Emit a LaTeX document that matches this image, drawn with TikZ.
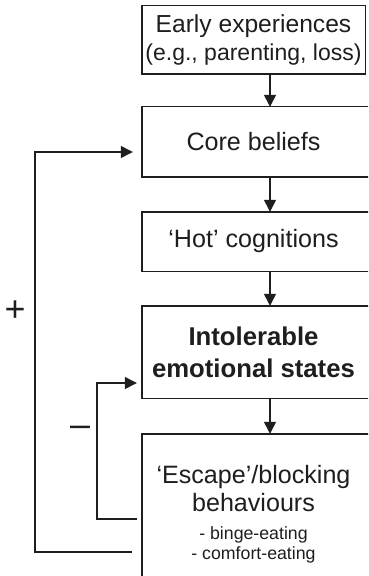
\documentclass[tikz,border=0pt]{standalone}
\usepackage{fontspec}
\setmainfont{Liberation Sans}
\usetikzlibrary{arrows.meta,calc}
\definecolor{ink}{HTML}{1E1E1E}
\begin{document}
\begin{tikzpicture}[x=1bp,y=-1bp,
  every node/.style={text=ink},
  txt/.style={inner sep=0pt, align=center, minimum width=223bp},
  frame/.style={draw=ink, line width=1.4bp},
  arr/.style={draw=ink, line width=1.3bp, -{Triangle[width=12bp,length=12bp]}},
  sign/.style={font=\fontsize{36}{36}\selectfont, inner sep=0pt}]
\useasboundingbox (0,0) rectangle (368,576);
\fill[white] (0,0) rectangle (368,576);
\clip (0,0) rectangle (368,576);

% column of boxes
\node[txt, minimum height=68bp, font=\fontsize{24.7}{28}\selectfont] (early) at (253.5,40)
  {Early experiences\\{\fontsize{23.1}{28}\selectfont (e.g., parenting, loss)}};
\node[txt, minimum height=70bp, font=\fontsize{25.2}{28}\selectfont] (core) at (253.5,142)
  {Core beliefs};
\node[txt, minimum height=59bp, font=\fontsize{25.2}{28}\selectfont] (hot) at (253.5,241.5)
  {‘Hot’ cognitions};
\node[txt, minimum height=92bp, font=\bfseries\fontsize{25.8}{32}\selectfont] (intol) at (253.5,352)
  {Intolerable\\emotional states};
\node[txt, minimum height=160bp, font=\fontsize{25.2}{24}\selectfont] (esc) at (253.5,514)
  {‘Escape’/blocking\\[4bp]behaviours\\[4bp]
   {\fontsize{17.8}{20}\selectfont - binge-eating}\\[-4bp]
   {\fontsize{17.8}{20}\selectfont - comfort-eating}};

% box outlines (the lower ones run past the right and bottom edges)
\draw[frame] (early.north west) rectangle (early.south east);
\draw[frame] (core.north west) rectangle ([xshift=20bp]core.south east);
\draw[frame] (hot.north west) rectangle ([xshift=20bp]hot.south east);
\draw[frame] (intol.north west) rectangle ([xshift=20bp]intol.south east);
\draw[frame] (esc.north west) rectangle ([xshift=20bp]esc.south east);

% downward arrows
\coordinate (ax) at (270,0);
\draw[arr] (early.south -| ax) -- (core.north -| ax);
\draw[arr] (core.south -| ax) -- (hot.north -| ax);
\draw[arr] (hot.south -| ax) -- (intol.north -| ax);
\draw[arr] (intol.south -| ax) -- (esc.north -| ax);

% feedback loops
\coordinate (lx1) at (35,0);
\coordinate (lx2) at (97,0);
\draw[arr, shorten <=10bp, shorten >=9bp]
  ([yshift=-38bp]esc.west) -- ([yshift=-38bp]esc.west -| lx1) |- ([yshift=-10bp]core.west);
\draw[arr, shorten <=5bp, shorten >=5bp]
  ([yshift=-5bp]esc.west) -- ([yshift=-5bp]esc.west -| lx2) |- ([yshift=-31bp]intol.west);

\node[sign] (plus) at (15,311) {+};
\node[sign] (minus) at (80,431) {–};
\end{tikzpicture}
\end{document}
